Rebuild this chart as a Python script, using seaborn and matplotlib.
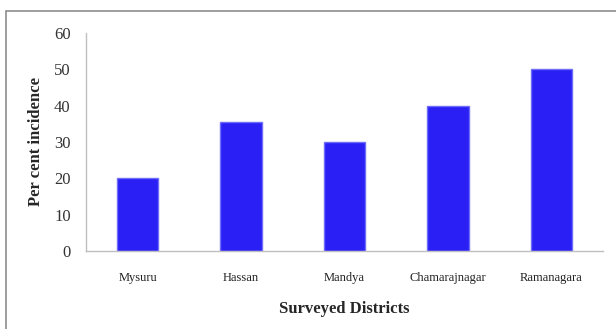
import matplotlib
matplotlib.use("Agg")
import matplotlib.pyplot as plt
import seaborn as sns
import pandas as pd
from matplotlib.patches import Rectangle

districts = ["Mysuru", "Hassan", "Mandya", "Chamarajnagar", "Ramanagara"]
incidence = [20, 35.5, 30, 40, 50]
yticks = [0, 10, 20, 30, 40, 50, 60]

df = pd.DataFrame({"District": districts, "Incidence": incidence})

sns.set_style("white")
plt.rcParams["font.family"] = ["Liberation Serif", "DejaVu Serif"]

fig = plt.figure(figsize=(6.16, 3.29), dpi=100)
ax = fig.add_axes([0.1396, 0.237, 0.8394, 0.663])

# outer frame around chart area
fig.patches.append(Rectangle((6 / 616, -0.01), 1.0, 1 - 11 / 329 + 0.01,
                             transform=fig.transFigure, fill=False,
                             edgecolor="#8c8c8c", linewidth=1.2))

sns.barplot(data=df, x="District", y="Incidence", color="#2a20f5",
            width=0.4, edgecolor="#6f6cf8", linewidth=1.0, saturation=1, ax=ax)

ax.set_ylim(0, 60)
ax.set_yticks(yticks)
ax.set_xlim(-0.5, 4.5)
ax.tick_params(axis="y", length=0, labelsize=12, colors="#333333", pad=11)
ax.tick_params(axis="x", length=0, labelsize=9, colors="#222222", pad=15)
sns.despine(ax=ax)
for s in ["left", "bottom"]:
    ax.spines[s].set_color("#bfbfbf")
    ax.spines[s].set_linewidth(1.0)

ax.set_ylabel("Per cent incidence", fontsize=12, fontweight="bold", labelpad=7)
ax.set_xlabel("Surveyed Districts", fontsize=12, fontweight="bold", labelpad=12)

fig.savefig("out.png", dpi=100)
